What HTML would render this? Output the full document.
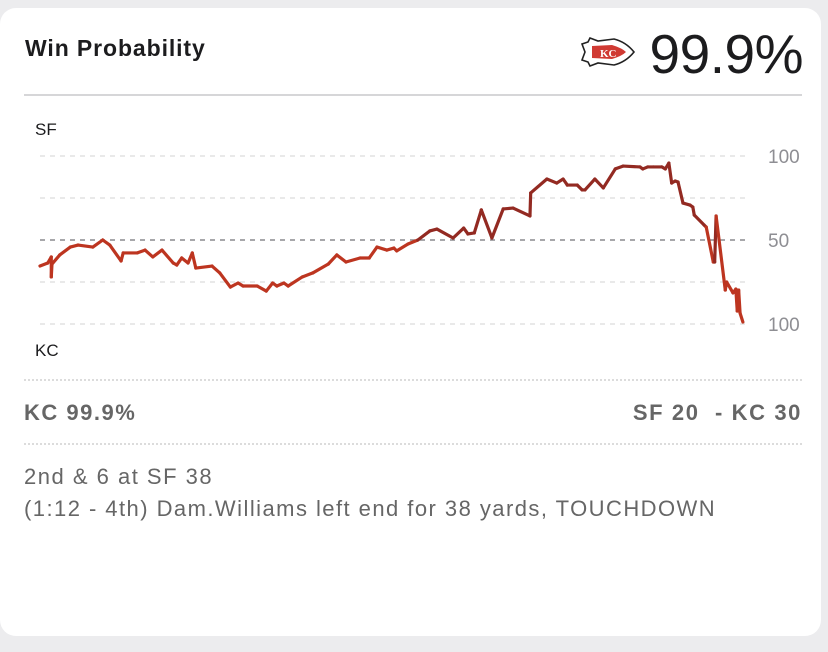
<!DOCTYPE html>
<html><head><meta charset="utf-8"><style>
body{margin:0;width:828px;height:652px;background:#ececee;font-family:"Liberation Sans",sans-serif;overflow:hidden;position:relative}
.card{position:absolute;left:0;top:8px;width:821px;height:628px;background:#fff;border-radius:16px}
.t{position:absolute;white-space:nowrap}
</style></head><body>
<div class="card"></div>
<div class="t" style="left:25px;top:35px;font-size:23px;font-weight:bold;color:#1c1c1e;letter-spacing:0.9px">Win Probability</div>
<svg style="position:absolute;left:578px;top:36px" width="58" height="32" viewBox="0 0 58 32">
<path d="M4 8 L10 6 L12 2 L20 5 L36 3 Q48 6 56 16 Q48 26 36 29 L20 27 L12 30 L10 26 L4 24 L7 16 Z" fill="#fff" stroke="#222" stroke-width="1.6"/>
<path d="M14 10 L34 9 Q44 12 48 16 Q44 20 34 23 L14 22 Z" fill="#d03a33"/>
<text x="22" y="21" font-size="11" font-weight="bold" fill="#fff" font-family="Liberation Serif,serif">KC</text>
</svg>
<div class="t" style="right:25px;top:22px;font-size:55px;color:#1c1c1e;letter-spacing:-0.5px">99.9%</div>
<div style="position:absolute;left:24px;top:94px;width:778px;height:2px;background:#d6d6d8"></div>
<div class="t" style="left:35px;top:120px;font-size:17px;color:#1c1c1e">SF</div>
<div class="t" style="left:35px;top:341px;font-size:17px;color:#1c1c1e">KC</div>
<svg id="chart" style="position:absolute;left:0;top:0" width="828" height="652"></svg>
<div style="position:absolute;left:24px;top:379px;width:778px;border-top:2px dotted #dcdcdc"></div>
<div class="t" style="left:24px;top:400px;font-size:22px;font-weight:bold;color:#666;letter-spacing:1.5px">KC 99.9%</div>
<div class="t" style="right:26px;top:400px;font-size:22px;font-weight:bold;color:#666;letter-spacing:1.6px">SF 20 &nbsp;- KC 30</div>
<div style="position:absolute;left:24px;top:443px;width:778px;border-top:2px dotted #dcdcdc"></div>
<div class="t" style="left:24px;top:464px;font-size:22px;color:#666;letter-spacing:1.5px">2nd &amp; 6 at SF 38</div>
<div class="t" style="left:24px;top:496px;font-size:22px;color:#666;letter-spacing:1.45px">(1:12 - 4th) Dam.Williams left end for 38 yards, TOUCHDOWN</div>
<script>
const progress=[0,1.1,1.6,1.6,1.7,2.8,4.3,5.4,7.5,8.9,9.9,11.5,11.8,13.8,14.9,16,17.3,18.9,19.4,20.1,21,21.6,22.1,24.4,25.5,27,28.1,28.8,30.8,32.1,33,33.6,34.6,35.2,37.2,38.7,40.9,42.1,43.4,45.4,46.7,47.8,49.2,50.2,50.6,52.2,53.6,55.3,56.3,58.6,60.1,60.7,61.6,62.6,64.1,65.7,67.1,69.5,69.6,71.9,73.3,74.2,74.8,76.2,76.9,77.3,78.7,79.9,81.6,82.7,85.1,85.5,86.2,87,88.2,88.7,89.2,89.6,90.1,90.5,91.2,92.2,92.6,92.8,94.2,94.5,95.5,95.7,95.9,97.2,97.4,98.3,98.7,98.9,99.1,99.3,99.7];
const sfWinProb=[34.5,36.3,39.9,28,35.7,41.1,45.8,47,45.8,50,47,37.5,42.3,42.3,44,39.9,44,36.3,35.1,39.3,36.3,42.3,33.3,34.5,30.4,22,24.4,22.6,22.6,19.6,24.4,22.6,24.4,22.6,28,30.4,35.7,41.1,36.9,39.3,39.3,45.8,44,45.2,43.5,47.6,50,55.4,56.5,51.2,57.1,53.6,54.2,67.9,51.2,68.5,69,64.3,78,86.3,83.9,86.3,82.7,82.7,79.8,79.8,86.3,81,92.3,94,93.5,92.3,93.5,93.5,93.5,92.3,95.8,83.9,85.1,84.5,72,70.8,69.6,64.9,58.9,57.7,36.9,36.9,64.3,20.2,25,18.5,20.8,7.7,20.2,6.5,1.2];
const gridValues=[100,75,50,25,0];
const tickLabels=["100","","50","","100"];
const svg=document.getElementById('chart');const NS='http://www.w3.org/2000/svg';
const X=p=>40+p*7.05, Y=v=>324-v*1.68;
gridValues.forEach((g,i)=>{
 const l=document.createElementNS(NS,'line');
 
 
 l.setAttribute('x1',40);l.setAttribute('x2',750);l.setAttribute('y1',Y(g));l.setAttribute('y2',Y(g));
 l.setAttribute('stroke',g===50?'#8a8a8e':'#dcdcdc');l.setAttribute('stroke-width',g===50?1.5:1.3);l.setAttribute('stroke-dasharray','5,5');
 svg.appendChild(l);
 if(tickLabels[i]){const t=document.createElementNS(NS,'text');
 
 
 t.setAttribute('x',768);t.setAttribute('y',Y(g)+7);t.setAttribute('font-size','19');t.setAttribute('fill','#8e8e93');t.setAttribute('font-family','Liberation Sans,sans-serif');t.textContent=tickLabels[i];svg.appendChild(t);}
});
for(let i=1;i<progress.length;i++){
 const s=document.createElementNS(NS,'line');
 
 
 s.setAttribute('x1',X(progress[i-1]));s.setAttribute('y1',Y(sfWinProb[i-1]));s.setAttribute('x2',X(progress[i]));s.setAttribute('y2',Y(sfWinProb[i]));
 const avg=(sfWinProb[i]+sfWinProb[i-1])/2;
 s.setAttribute('stroke',avg>50?'#932a22':'#bd3520');s.setAttribute('stroke-width',3.2);s.setAttribute('stroke-linecap','round');
 svg.appendChild(s);
}
</script>
</body></html>
